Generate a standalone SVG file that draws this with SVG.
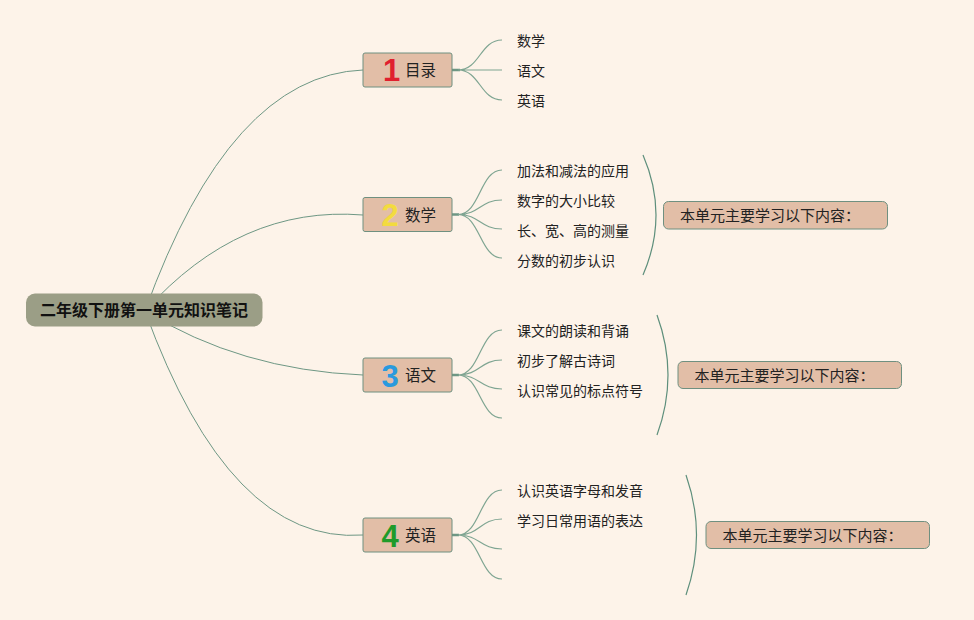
<svg xmlns="http://www.w3.org/2000/svg" width="974" height="620" viewBox="0 0 974 620">
<style>
text{font-family:"Noto Sans CJK SC","Liberation Sans",sans-serif;fill:#222;}
.conn{fill:none;stroke:#6e9784;stroke-width:1;}
.sub{fill:none;stroke:#7fa592;stroke-width:1.2;}
.stub{fill:none;stroke:#6e9784;stroke-width:2.5;}
.brk{fill:none;stroke:#5e8f7c;stroke-width:1.2;}
.main{fill:#e2bea7;stroke:#6f9080;stroke-width:1;}
.sum{fill:#e2bea7;stroke:#6f9080;stroke-width:1;}
.mt{font-size:15.5px;}
.num{font-family:"Liberation Sans",Arial,sans-serif;font-weight:bold;font-size:31px;text-anchor:middle;}
.ct{font-size:14px;}
.st{font-size:15px;}
</style>
<rect x="0" y="0" width="974" height="620" fill="#fdf3e9"/>
<g id="connectors">
<path class="conn" d="M145,311 Q230,75 363,70"/>
<path class="conn" d="M145,311 Q240,205 363,215"/>
<path class="conn" d="M145,311 Q240,370 363,375"/>
<path class="conn" d="M145,311 Q230,545 363,535"/>
<path class="stub" d="M452,70 L460,70 M452,214.5 L459,214.5 M452,375 L459,375 M452,535 L459,535"/>
<path class="sub" d="M458,70 C480,70 480,40 502,40 M458,70 L502,70 M458,70 C480,70 480,100 502,100"/>
<path class="sub" d="M458,214.5 C480,214.5 480,170 502,170 M458,214.5 C480,214.5 480,200 502,200 M458,214.5 C480,214.5 480,229 502,229 M458,214.5 C480,214.5 480,258 502,258"/>
<path class="sub" d="M458,375 C480,375 480,330 502,330 M458,375 C480,375 480,360 502,360 M458,375 C480,375 480,389 502,389 M458,375 C480,375 480,418 502,418"/>
<path class="sub" d="M458,535 C480,535 480,490 502,490 M458,535 C480,535 480,519 502,519 M458,535 C480,535 480,549 502,549 M458,535 C480,535 480,579 502,579"/>
<path class="brk" d="M643,155 Q669,215 643,275"/>
<path class="brk" d="M657,315 Q679,375 657,435"/>
<path class="brk" d="M686,475 Q707,535 686,595"/>
</g>
<g id="root">
<rect x="26" y="293.5" width="236.5" height="33" rx="9" fill="#9b9e86"/>
<text x="144" y="316" font-size="16" font-weight="bold" text-anchor="middle" style="fill:#111">二年级下册第一单元知识笔记</text>
</g>
<g id="n1">
<rect class="main" x="363" y="53" width="89" height="34" rx="2"/>
<text class="num" x="391.5" y="81" style="fill:#e0202e">1</text>
<text class="mt" x="405" y="76">目录</text>
</g>
<g id="n1c">
<text class="ct" x="517" y="46">数学</text>
<text class="ct" x="517" y="76">语文</text>
<text class="ct" x="517" y="106">英语</text>
</g>
<g id="n2">
<rect class="main" x="363" y="197.5" width="89" height="34" rx="2"/>
<text class="num" x="390" y="226" style="fill:#f3db3e">2</text>
<text class="mt" x="405" y="220.5">数学</text>
</g>
<g id="n2c">
<text class="ct" x="517" y="176">加法和减法的应用</text>
<text class="ct" x="517" y="206">数字的大小比较</text>
<text class="ct" x="517" y="236">长、宽、高的测量</text>
<text class="ct" x="517" y="266">分数的初步认识</text>
</g>
<g id="s2">
<rect class="sum" x="663.5" y="201.5" width="224" height="27.5" rx="5"/>
<text class="st" x="680" y="220.5">本单元主要学习以下内容：</text>
</g>
<g id="n3">
<rect class="main" x="363" y="358" width="89" height="34" rx="2"/>
<text class="num" x="390" y="386.5" style="fill:#2a9ade">3</text>
<text class="mt" x="405" y="381">语文</text>
</g>
<g id="n3c">
<text class="ct" x="517" y="336">课文的朗读和背诵</text>
<text class="ct" x="517" y="366">初步了解古诗词</text>
<text class="ct" x="517" y="396">认识常见的标点符号</text>
</g>
<g id="s3">
<rect class="sum" x="678" y="361.5" width="223.5" height="27" rx="5"/>
<text class="st" x="694.5" y="380.5">本单元主要学习以下内容：</text>
</g>
<g id="n4">
<rect class="main" x="363" y="518" width="89" height="34" rx="2"/>
<text class="num" x="390" y="546.5" style="fill:#1f9b2a">4</text>
<text class="mt" x="405" y="541">英语</text>
</g>
<g id="n4c">
<text class="ct" x="517" y="496">认识英语字母和发音</text>
<text class="ct" x="517" y="526">学习日常用语的表达</text>
</g>
<g id="s4">
<rect class="sum" x="706" y="521.5" width="223.5" height="27" rx="5"/>
<text class="st" x="722.5" y="540.5">本单元主要学习以下内容：</text>
</g>
</svg>
